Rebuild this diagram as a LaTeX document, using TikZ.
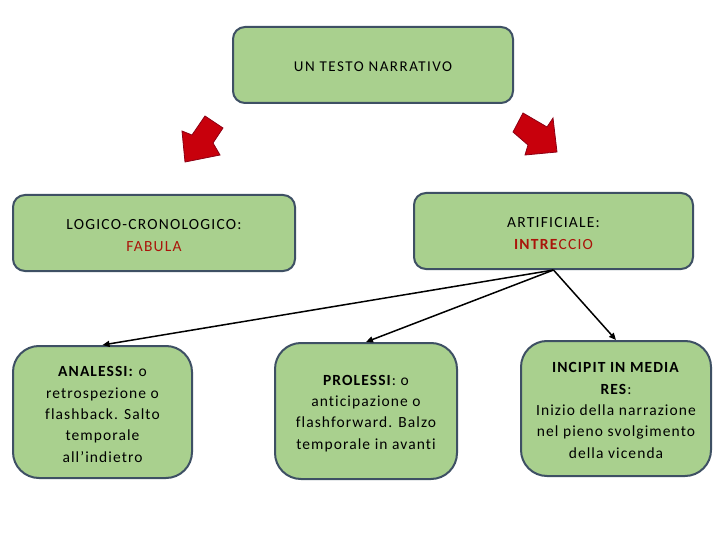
\documentclass[tikz,border=0pt]{standalone}
\usepackage{fontspec}
\setmainfont{Carlito}[Ligatures=NoCommon]
\usetikzlibrary{arrows.meta}
\definecolor{boxgreen}{RGB}{169,208,142}
\definecolor{boxline}{RGB}{62,80,100}
\definecolor{txtred}{RGB}{170,20,10}
\definecolor{arrred}{RGB}{200,0,12}
\definecolor{arrline}{RGB}{140,0,20}
\tikzset{
  gbox/.style={draw=boxline, fill=boxgreen, line width=2pt, inner sep=0pt},
  midbox/.style={gbox, rounded corners=12pt, minimum width=281pt, minimum height=76pt},
  lowbox/.style={gbox, rounded corners=26pt},
  midtxt/.style={align=center, inner sep=0pt, font=\fontsize{15.5}{22}\selectfont\addfontfeatures{LetterSpace=8}},
  lowtxt/.style={align=center, inner sep=0pt, font=\fontsize{15.5}{21.3}\selectfont\addfontfeatures{LetterSpace=7}},
  conn/.style={line width=1.5pt, -{Triangle[length=7pt,width=6pt]}},
  redarrow/.style={fill=arrred, draw=arrline, line width=0.8pt, line join=miter}
}
\begin{document}
\begin{tikzpicture}[x=1pt,y=-1pt]
\useasboundingbox[fill=white] (0,0) rectangle (720,540);
\node[midbox, minimum width=280pt] (top) at (373,65) {};
\node[midtxt, font=\fontsize{15}{17}\selectfont\addfontfeatures{LetterSpace=10}] (topt) at ([yshift=-1.5pt]top.center) {UN TESTO NARRATIVO};
\node[midbox, minimum width=282pt] (log) at (154,233) {};
\node[midtxt] (logt) at ([yshift=-2.5pt]log.center) {LOGICO-CRONOLOGICO:\\\textcolor{txtred}{FABULA}};
\node[midbox, minimum width=279pt] (art) at (553.5,231) {};
\node[midtxt] (artt) at ([yshift=-2.5pt]art.center) {ARTIFICIALE:\\\textcolor{txtred}{\textbf{INTRE}CCIO}};
\node[lowbox, minimum width=179pt, minimum height=132pt] (ana) at (102.5,412) {};
\node[lowtxt] (anat) at ([yshift=-2.5pt]ana.center) {\textbf{ANALESSI:} o\\retrospezione o\\flashback. Salto\\temporale\\all’indietro};
\node[lowbox, minimum width=182pt, minimum height=136pt] (pro) at (366,411) {};
\node[lowtxt] (prot) at ([yshift=-2.5pt]pro.center) {\textbf{PROLESSI}: o\\anticipazione o\\flashforward. Balzo\\temporale in avanti};
\node[lowbox, minimum width=190pt, minimum height=135pt] (inc) at (616,408.5) {};
\node[lowtxt] (inct) at ([yshift=-2pt]inc.center) {\textbf{INCIPIT IN MEDIA}\\\textbf{RES}:\\Inizio della narrazione\\nel pieno svolgimento\\della vicenda};
\draw[conn] (art.south) -- (ana.north);
\draw[conn] (art.south) -- (pro.north);
\draw[conn] (art.south) -- (inc.north);
\draw[redarrow] (205,116) -- (223,128) -- (213,143) -- (220,155) -- (185,162) -- (182,131) -- (192,135) -- cycle;
\draw[redarrow] (523,113) -- (547,127) -- (553,118) -- (557,152) -- (525,155) -- (528,145) -- (513,132) -- cycle;
\end{tikzpicture}
\end{document}
